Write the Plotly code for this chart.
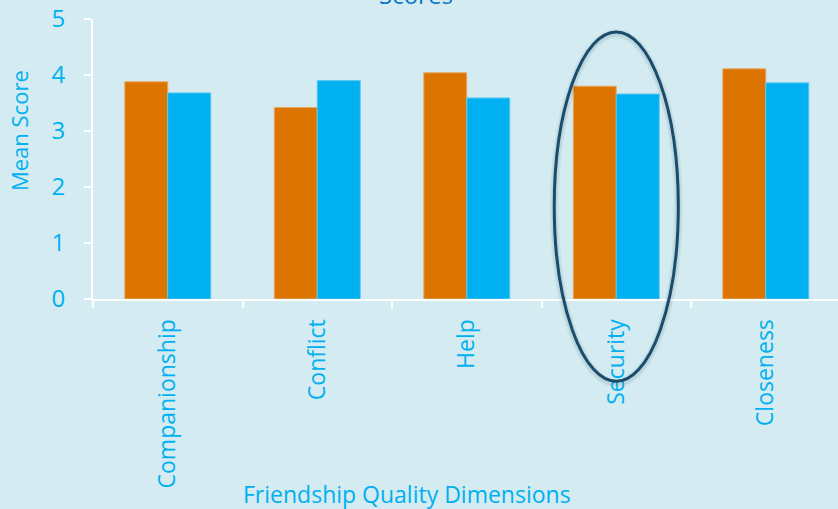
import plotly.graph_objects as go

# Friendship quality dimensions and mean scores for the two groups
categories = ["Companionship", "Conflict", "Help", "Security", "Closeness"]
group_a = [3.88, 3.42, 4.04, 3.80, 4.11]
group_b = [3.68, 3.90, 3.59, 3.66, 3.86]
y_ticks = [0, 1, 2, 3, 4, 5]
highlight = "Security"

BG = "#d3ebf1"
ORANGE = "#dc7400"
BLUE = "#00b0f0"
FONT = "Open Sans"

x_range = [-0.5, 4.483]
y_range = [0, 5]

fig = go.Figure()
fig.add_trace(go.Bar(x=categories, y=group_a, name="Group A",
                     marker=dict(color=ORANGE, line=dict(color="#e8a868", width=1))))
fig.add_trace(go.Bar(x=categories, y=group_b, name="Group B",
                     marker=dict(color=BLUE, line=dict(color="#5cc8f0", width=1))))

# ellipse drawn around the highlighted category (paper coords derived from axis ranges)
idx = categories.index(highlight)
span = x_range[1] - x_range[0]
cx = (idx - x_range[0]) / span
hw = 0.415 / span
y_lo, y_hi = -1.47, 4.77
py0, py1 = y_lo / y_range[1], y_hi / y_range[1]
for w, a in [(9, 0.05), (6, 0.07)]:
    fig.add_shape(type="circle", xref="paper", yref="paper",
                  x0=cx - hw, x1=cx + hw, y0=py0 - 0.006, y1=py1 - 0.006,
                  line=dict(color=f"rgba(20,60,90,{a})", width=w), layer="above")
fig.add_shape(type="circle", xref="paper", yref="paper",
              x0=cx - hw, x1=cx + hw, y0=py0, y1=py1,
              line=dict(color="#1c4c6c", width=3), layer="above")

# chart title (sits mostly above the visible canvas)
fig.add_annotation(text="Scores", xref="paper", yref="paper", x=0.433, y=1.022,
                   xanchor="center", yanchor="bottom", showarrow=False,
                   font=dict(family=FONT, size=24, color="#0a78c8"))

# axis titles
fig.add_annotation(text="Friendship Quality Dimensions", xref="paper", yref="paper",
                   x=0.4215, y=-0.696, xanchor="center", yanchor="middle", showarrow=False,
                   font=dict(family=FONT, size=23, color=BLUE))
fig.add_annotation(text="Mean Score", xref="paper", yref="paper",
                   x=-0.0993, y=0.6, xanchor="center", yanchor="middle", showarrow=False,
                   textangle=-90, font=dict(family=FONT, size=22, color=BLUE))

fig.update_layout(
    width=838, height=509,
    margin=dict(l=93, r=0, t=19, b=210),
    paper_bgcolor=BG, plot_bgcolor=BG,
    barmode="group", bargap=0.425, bargroupgap=0,
    showlegend=False,
    font=dict(family=FONT, color=BLUE),
)
fig.update_xaxes(
    range=x_range, showgrid=False, zeroline=False,
    showline=True, linecolor="white", linewidth=2,
    ticks="outside", tickson="boundaries", ticklen=7, tickwidth=2, tickcolor="white",
    tickangle=-90, tickfont=dict(family=FONT, size=23, color=BLUE),
    ticklabelstandoff=9,
)
fig.update_yaxes(
    range=y_range, tickvals=y_ticks, showgrid=False, zeroline=False,
    showline=True, linecolor="white", linewidth=2,
    ticks="outside", ticklen=7, tickwidth=2, tickcolor="white",
    tickfont=dict(family=FONT, size=24, color=BLUE), ticklabelstandoff=14,
)

fig.write_html("out.html")
